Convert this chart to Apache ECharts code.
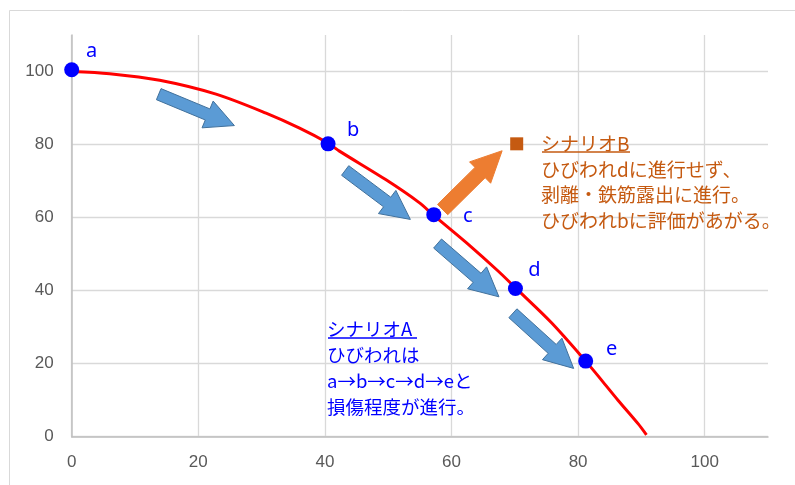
<!DOCTYPE html>
<html><head><meta charset="utf-8">
<script src="https://cdn.jsdelivr.net/npm/echarts@6/dist/echarts.min.js"></script>
<style>html,body{margin:0;padding:0;background:#fff}#c{width:795px;height:485px}</style>
</head><body><div id="c"></div>
<script>
// Red deterioration curve
const curveX = [0, 6, 13.9, 22.8, 30.7, 36, 40.4, 42.3, 49.6, 54.9, 57.2, 62.7, 67.4, 70.2, 75.8, 81.1, 83.7, 86.3, 89.5, 90.8];
const curveY = [100, 99.4, 97.6, 93.8, 88.6, 84.5, 80.5, 78.2, 70.4, 64.1, 60.6, 52.6, 45.3, 40.6, 31.2, 20.9, 15.5, 10.0, 3.5, 0.5];
// Stage points a..e
const pointNames = ['a', 'b', 'c', 'd', 'e'];
const pointX = [0, 40.5, 57.2, 70.1, 81.2];
const pointY = [100.5, 80.2, 60.8, 40.6, 20.7];
// Scenario B marker
const markerBX = [70.3];
const markerBY = [80.2];
// Arrows [tailX, tailY, tipX, tipY]
const blueArrows = [
  [13.75, 93.8, 25.7, 85.2],
  [43.2, 72.9, 53.5, 59.5],
  [57.8, 52.9, 67.5, 38.3],
  [69.7, 33.8, 79.3, 18.7]
];
const orangeArrows = [
  [58.6, 62.2, 68.0, 78.3]
];
// Axis ticks
const axisMin = 0, axisMax = 110, axisStep = 20;
// Texts
const scenarioATitle = 'シナリオA';
const scenarioALines = ['ひびわれは', 'a→b→c→d→eと', '損傷程度が進行。'];
const scenarioBTitle = 'シナリオB';
const scenarioBLines = ['ひびわれdに進行せず、', '剥離・鉄筋露出に進行。', 'ひびわれbに評価があがる。'];

// label offsets for a..e (layout, px)
const labelOffsets = [[20, -18], [25, -14], [34, 2], [19, -18], [26, -12]];

const chart = echarts.init(document.getElementById('c'), null, {renderer: 'canvas'});

function arrowRenderer(shaft, head, headLen, fill, stroke) {
  return function (params, api) {
    const p1 = api.coord([api.value(0), api.value(1)]);
    const p2 = api.coord([api.value(2), api.value(3)]);
    const dx = p2[0] - p1[0], dy = p2[1] - p1[1];
    const L = Math.hypot(dx, dy);
    const ux = dx / L, uy = dy / L, nx = -uy, ny = ux;
    const sw = shaft / 2, hw = head / 2;
    const bx = p2[0] - ux * headLen, by = p2[1] - uy * headLen;
    const pts = [
      [p1[0] + nx * sw, p1[1] + ny * sw],
      [bx + nx * sw, by + ny * sw],
      [bx + nx * hw, by + ny * hw],
      [p2[0], p2[1]],
      [bx - nx * hw, by - ny * hw],
      [bx - nx * sw, by - ny * sw],
      [p1[0] - nx * sw, p1[1] - ny * sw]
    ];
    return {type: 'polygon', shape: {points: pts}, style: {fill: fill, stroke: stroke, lineWidth: 1}};
  };
}

const axisCommon = {
  type: 'value', min: axisMin, max: axisMax, interval: axisStep,
  axisLine: {show: true, lineStyle: {color: '#BFBFBF', width: 1.5}},
  axisTick: {show: false},
  splitLine: {show: true, showMaxLine: false, lineStyle: {color: '#D9D9D9', width: 1.3}},
  axisLabel: {color: '#595959', fontSize: 17, fontFamily: 'Liberation Sans', showMaxLabel: false}
};

const option = {
  animation: false,
  backgroundColor: '#ffffff',
  grid: {left: 71.7, right: 27, top: 35, bottom: 48.3, containLabel: false, outerBoundsMode: 'none'},
  xAxis: Object.assign({}, axisCommon, {axisLabel: Object.assign({}, axisCommon.axisLabel, {margin: 17})}),
  yAxis: Object.assign({}, axisCommon, {axisLabel: Object.assign({}, axisCommon.axisLabel, {margin: 18})}),
  series: [
    {
      type: 'custom', coordinateSystem: 'cartesian2d', z: 2,
      renderItem: arrowRenderer(12, 29, 29, '#5B9BD5', '#41719C'),
      encode: {x: [0, 2], y: [1, 3]},
      data: blueArrows
    },
    {
      type: 'custom', coordinateSystem: 'cartesian2d', z: 2,
      renderItem: arrowRenderer(14.5, 30, 31, '#ED7D31', '#ED7D31'),
      encode: {x: [0, 2], y: [1, 3]},
      data: orangeArrows
    },
    {
      type: 'line', z: 3, smooth: 0.3, showSymbol: false, symbol: 'none',
      lineStyle: {color: '#FF0000', width: 3},
      data: curveX.map((x, i) => [x, curveY[i]])
    },
    {
      type: 'scatter', z: 4, symbol: 'circle', symbolSize: 15,
      itemStyle: {color: '#0000FF', opacity: 1},
      data: pointX.map((x, i) => ({
        value: [x, pointY[i]], name: pointNames[i],
        label: {show: true, position: 'inside', offset: labelOffsets[i], formatter: pointNames[i],
          color: '#0000FF', fontSize: 20, fontFamily: 'Noto Sans'}
      }))
    },
    {
      type: 'scatter', z: 4, symbol: 'rect', symbolSize: 13,
      itemStyle: {color: '#C55A11', opacity: 1},
      data: markerBX.map((x, i) => [x, markerBY[i]])
    }
  ],
  graphic: [
    {type: 'rect', z: -10, silent: true, shape: {x: 9.5, y: 10.5, width: 800, height: 500},
      style: {fill: 'none', stroke: '#D9D9D9', lineWidth: 1}},
    {type: 'text', left: 541, top: 131, z: 10,
      style: {text: [scenarioBTitle].concat(scenarioBLines).join('\n'), fill: '#C55A11',
        fontSize: 19, lineHeight: 25.7, fontFamily: 'Noto Sans CJK JP'}},
    {type: 'line', z: 10, shape: {x1: 542, y1: 152, x2: 630, y2: 152},
      style: {stroke: '#C55A11', lineWidth: 1.5}},
    {type: 'text', left: 327, top: 316, z: 10,
      style: {text: [scenarioATitle].concat(scenarioALines).join('\n'), fill: '#0000FF',
        fontSize: 18.5, lineHeight: 26, fontFamily: 'Noto Sans CJK JP'}},
    {type: 'line', z: 10, shape: {x1: 328, y1: 338, x2: 417, y2: 338},
      style: {stroke: '#0000FF', lineWidth: 1.5}}
  ]
};
chart.setOption(option);
</script>
</body></html>
